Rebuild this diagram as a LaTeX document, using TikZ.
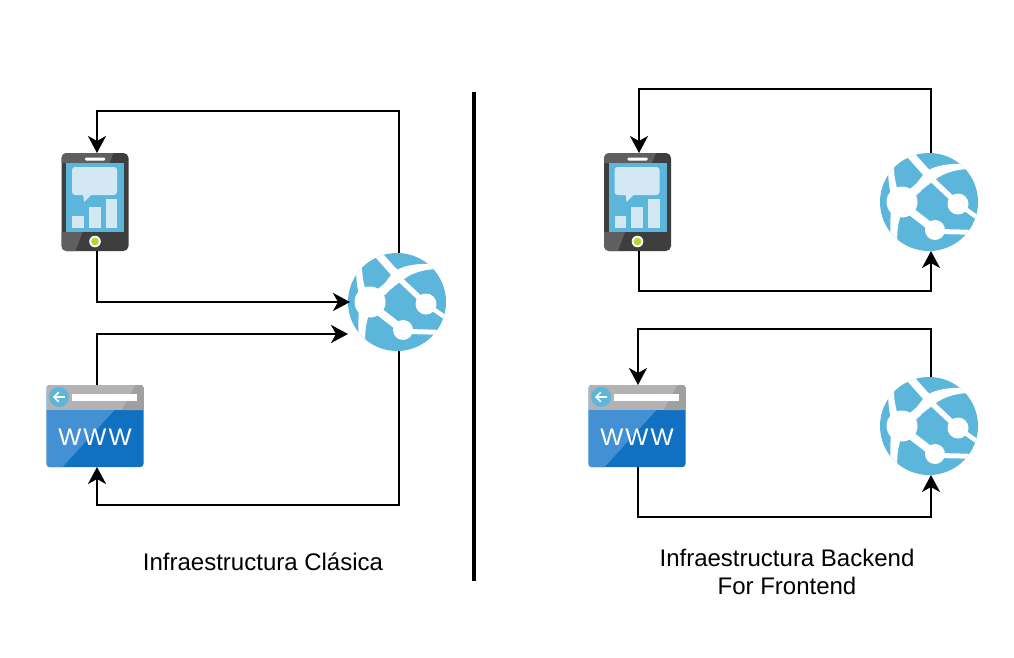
\documentclass[tikz,border=0pt]{standalone}
\usepackage{fontspec}
\setmainfont{Liberation Sans}
\usetikzlibrary{arrows.meta,positioning}
\definecolor{azure}{HTML}{5CB5DA}
\definecolor{bodydark}{HTML}{3E3E3E}
\definecolor{bodylight}{HTML}{5F5F5F}
\definecolor{bubble}{HTML}{D2E9F3}
\definecolor{btn}{HTML}{B8D432}
\definecolor{barlight}{HTML}{B3B3B3}
\definecolor{bardark}{HTML}{A0A0A0}
\definecolor{wwwblue}{HTML}{1071C3}
\definecolor{wwwlight}{HTML}{4390D4}
\tikzset{
  anchorbox/.style={minimum width=#1,inner sep=0pt,outer sep=0pt},
  conn/.style={draw=black,line width=2pt,-{Stealth[length=17pt,width=18pt,inset=5pt]}},
  web/.style={draw=white,line join=round},
  caption/.style={font=\fontsize{24}{28}\selectfont,align=center,text=black,inner sep=0pt}
}
\newcommand{\globeicon}[2]{%
 \begin{scope}[shift={(#1,#2)}]
  \fill[azure] (0,0) circle (49);
  \begin{scope}
   \clip (0,0) circle (49);
   \draw[web,line width=8pt] (-21,-50) -- (-5,-32) -- (4,-24);
   \draw[web,line width=5.5pt] (-5,-30) -- (29,2);
   \draw[web,line width=4.5pt] (29,2) -- (52,18);
   \fill[white] (-30,-4) -- (-12,-19) .. controls (-7,-26) and (-3,-31) .. (0,-32) .. controls (8,-37) and (22,-39) .. (42,-38)
      -- (42,-33) .. controls (30,-33) and (15,-30) .. (6,-22) .. controls (0,-18) and (-8,-12) .. (-12,-7) -- cycle;
   \fill[white] (-41,-34) -- (-35,-37) .. controls (-35,-25) and (-33,-18) .. (-32,-14) -- (-20,0) -- (-38,-7)
      .. controls (-40,-15) and (-41,-25) .. (-41,-34) -- cycle;
   \fill[white] (-38,8) -- (-28,12) .. controls (-31,22) and (-33,32) .. (-31,44) -- (-38,44) .. controls (-39,32) and (-39,20) .. (-38,8) -- cycle;
   \draw[web,line width=8pt] (-20,8) -- (6,28);
   \draw[web,line width=5pt] (6,28) .. controls (18,31) and (30,29) .. (48,31);
  \end{scope}
  \fill[white] (-27,0) circle (15.5);
  \fill[white] (29,2) circle (10.5);
  \fill[white] (6,28) circle (10);
 \end{scope}}
\newcommand{\phoneicon}[2]{%
 \begin{scope}[shift={(#1,#2)}]
  \fill[bodydark,rounded corners=5pt] (0,0) rectangle (67,98);
  \begin{scope}
   \clip[rounded corners=5pt] (0,0) rectangle (67,98);
   \fill[bodylight] (0,79) -- (21,79) -- (14,98) -- (0,98) -- cycle;
   \fill[bodylight] (0,0) -- (52,0) -- (48,10) -- (0,10) -- cycle;
  \end{scope}
  \fill[azure] (4.5,10) rectangle (62.5,79);
  \fill[bubble,rounded corners=3pt] (10.5,14) rectangle (55.5,42);
  \fill[bubble] (21.5,41) -- (22.5,49) -- (30.5,41) -- cycle;
  \fill[bubble] (10.5,63) rectangle (22,75);
  \fill[bubble] (27,54) rectangle (39,75);
  \fill[bubble] (44,46) rectangle (55.5,75);
  \fill[white,rounded corners=1pt] (23.5,4.5) rectangle (43.5,7.5);
  \fill[white] (33.5,88.5) circle (5.8);
  \fill[btn] (33.5,88.5) circle (3.8);
 \end{scope}}
\newcommand{\wwwicon}[2]{%
 \begin{scope}[shift={(#1,#2)}]
  \fill[wwwblue,rounded corners=3pt] (0,0) rectangle (97,82);
  \begin{scope}
   \clip[rounded corners=3pt] (0,0) rectangle (97,82);
   \fill[wwwlight] (0,25) -- (68,25) -- (16,82) -- (0,82) -- cycle;
   \fill[barlight] (0,0) rectangle (97,25);
   \fill[bardark] (89,0) -- (97,0) -- (97,25) -- (75,25) -- cycle;
  \end{scope}
  \fill[azure] (12.5,12) circle (10);
  \draw[white,line width=1.5pt] (7.5,12) -- (18.5,12);
  \draw[white,line width=1.5pt,line cap=round] (12,7.5) -- (7.5,12) -- (12,16.5);
  \fill[white] (25.5,9) rectangle (90.5,16);
  \node[text=white,inner sep=0pt,font=\fontsize{24}{24}\selectfont] at (48.5,52) {\scalebox{1.02}[1]{W}\hspace{2pt}\scalebox{1.02}[1]{W}\hspace{2pt}\scalebox{1.02}[1]{W}};
 \end{scope}}
\begin{document}
\begin{tikzpicture}[x=1pt,y=-1pt]
\useasboundingbox (0,0) rectangle (1014,658);
\fill[white] (0,0) rectangle (1014,658);
% icons
\phoneicon{61.5}{153}
\wwwicon{46.5}{385}
\globeicon{397}{302}
\phoneicon{604}{153}
\wwwicon{588.5}{385}
\globeicon{929}{202}
\globeicon{929}{426}
% anchor nodes
\node[anchorbox=72pt,minimum height=98pt] (phoneA) at (97,202) {};
\node[anchorbox=101pt,minimum height=82pt] (webA) at (97,426) {};
\node[anchorbox=98pt,minimum height=98pt] (apiA) at (399,302) {};
\node[anchorbox=72pt,minimum height=98pt] (phoneB) at (639,202) {};
\node[anchorbox=97pt,minimum height=82pt] (webB) at (638,426) {};
\node[anchorbox=98pt,minimum height=98pt] (apiB) at (931,202) {};
\node[anchorbox=98pt,minimum height=98pt] (apiC) at (931,426) {};
\coordinate (apiAin) at (348,334);
\coordinate (apiAtop) at (399,111);
\coordinate (apiAbot) at (399,505);
\coordinate (apiBtop) at (931,89);
\coordinate (apiBbot) at (931,291);
\coordinate (apiCtop) at (931,329);
\coordinate (apiCbot) at (931,517);
% connectors left
\draw[conn] (apiA.north) -- (apiAtop) -| (phoneA.north);
\draw[conn] (phoneA.south) |- (apiA.west);
\draw[conn] (webA.north) |- (apiAin);
\draw[conn] (apiA.south) -- (apiAbot) -| (webA.south);
% connectors right
\draw[conn] (apiB.north) -- (apiBtop) -| (phoneB.north);
\draw[conn] (phoneB.south) |- (apiBbot) -- (apiB.south);
\draw[conn] (apiC.north) -- (apiCtop) -| (webB.north);
\draw[conn] (webB.south) |- (apiCbot) -- (apiC.south);
% divider
\coordinate (divtop) at (474,92);
\coordinate (divbot) at (474,581);
\draw[line width=4pt,black] (divtop) -- (divbot);
% captions
\node[caption] (capA) at (263,562) {Infraestructura Clásica};
\node[caption] (capB) at (787,572) {Infraestructura Backend\\For Frontend};
\end{tikzpicture}
\end{document}
